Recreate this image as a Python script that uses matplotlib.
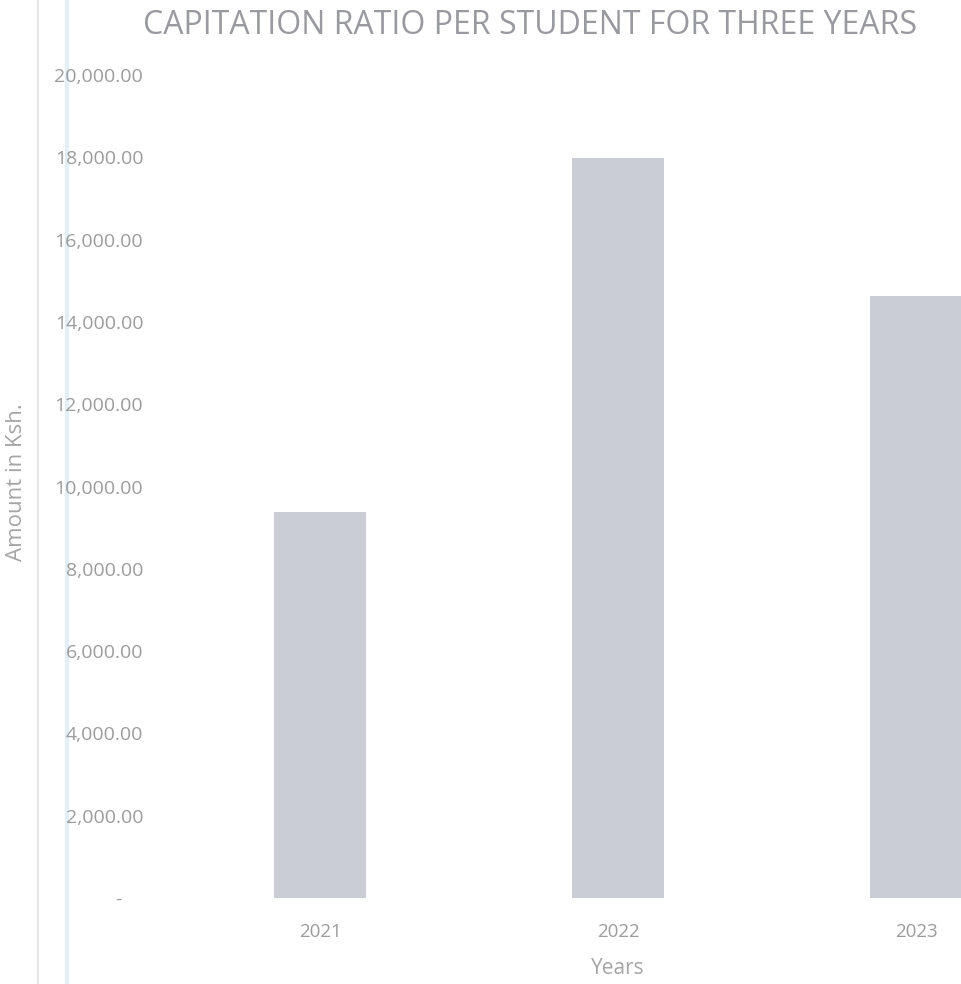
import matplotlib.pyplot as plt
from matplotlib.lines import Line2D

years = ['2021', '2022', '2023']
amounts = [9390, 17980, 14620]
y_ticks = [0, 2000, 4000, 6000, 8000, 10000, 12000, 14000, 16000, 18000, 20000]

plt.rcParams['font.family'] = ['Open Sans', 'DejaVu Sans']

W, H = 961, 984
fig = plt.figure(figsize=(W / 100, H / 100), dpi=100)
fig.patch.set_facecolor('white')

# axes: category 0 centred at x=320px, spacing ~298px; chart is cut off on the right
left_px, right_px = 171, 961
bottom_px, top_px = 898, 75
ax = fig.add_axes([left_px / W, 1 - bottom_px / H,
                   (right_px - left_px) / W, (bottom_px - top_px) / H])
ax.set_facecolor('none')

x = list(range(len(years)))
ax.bar(x, amounts, width=0.31, color='#cbcdd5', edgecolor='none')

ax.set_xlim(-0.5, -0.5 + (right_px - left_px) / 298)
ax.set_ylim(0, 20000)
ax.set_xticks(x)
ax.set_xticklabels(years)
ax.set_yticks(y_ticks)
ax.set_yticklabels(['-    '] + [f'{v:,.2f}' for v in y_ticks[1:]])

ax.tick_params(axis='both', length=0, colors='#9c9c9c')
ax.tick_params(axis='y', pad=20, labelsize=14)
ax.tick_params(axis='x', pad=18, labelsize=13.5)
for s in ax.spines.values():
    s.set_visible(False)

fig.text(530 / W, 1 - 25 / H, 'CAPITATION RATIO PER STUDENT FOR THREE YEARS',
         ha='center', va='center', fontsize=23, color='#999aa0')
fig.text(618 / W, 1 - 968 / H, 'Years', ha='center', va='center',
         fontsize=15, color='#a5a5a5')
fig.text(17 / W, 1 - 482 / H, 'Amount in Ksh.', ha='center', va='center',
         rotation=90, fontsize=16, color='#a5a5a5')

# faint scan lines along the left edge, behind everything
fig.add_artist(Line2D([38 / W, 38 / W], [0, 1], color='#eadfe2', lw=1.2, zorder=-5))
fig.add_artist(Line2D([67 / W, 67 / W], [0, 1], color='#e3eef7', lw=3, zorder=-5))

fig.savefig('out.png', dpi=100)
